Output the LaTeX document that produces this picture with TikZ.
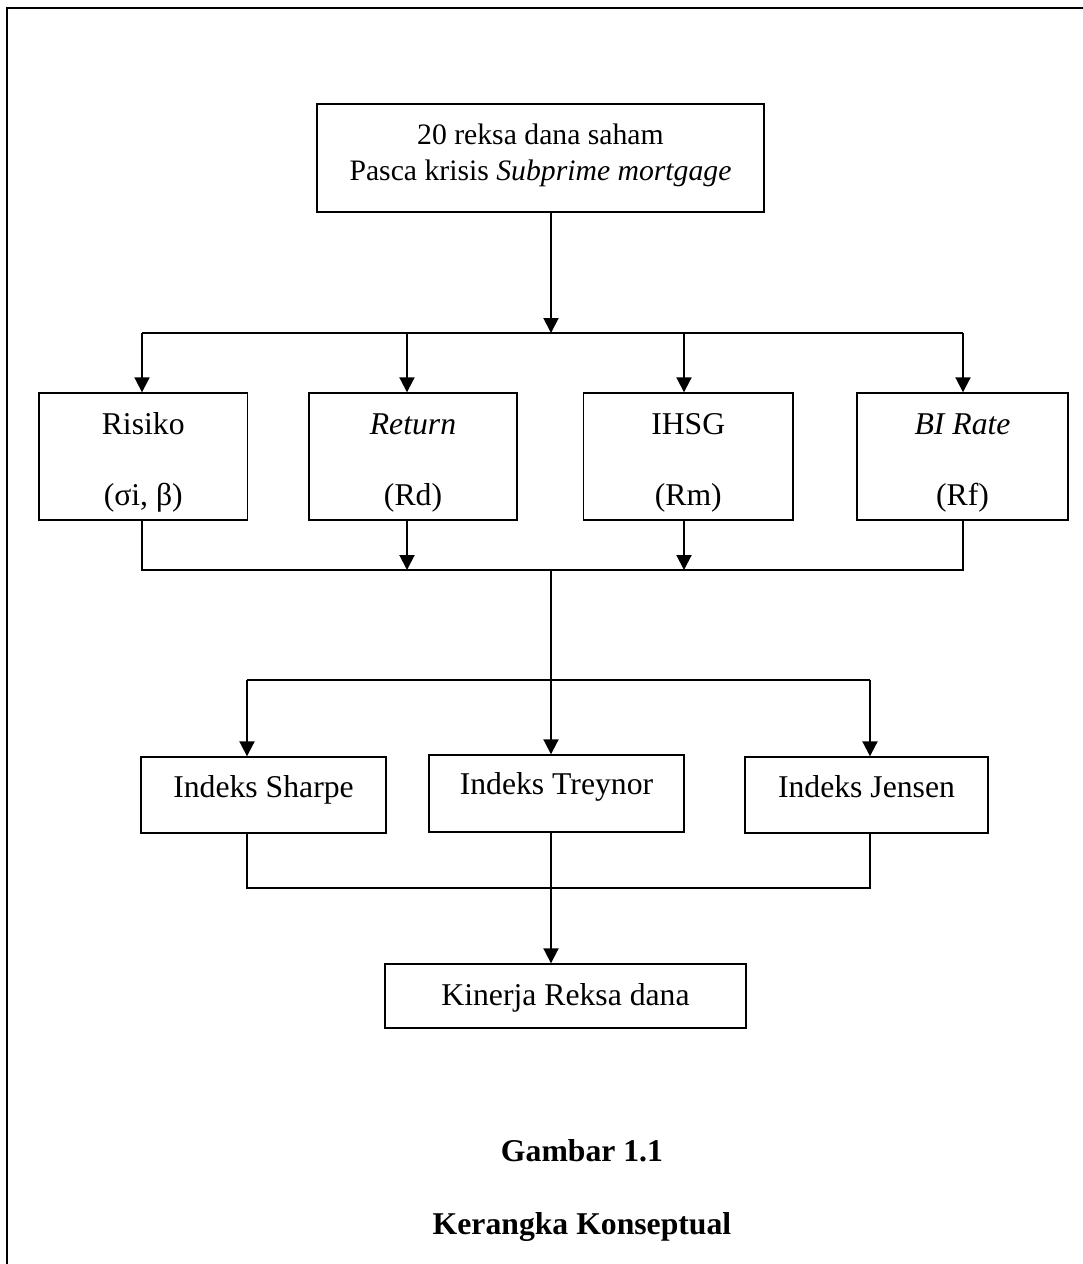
\documentclass[tikz,border=0pt]{standalone}
\usepackage{fontspec}
\setmainfont{Liberation Serif}
\usetikzlibrary{arrows.meta}
\newcommand\tbx[2]{\raisebox{#1pt}[0pt][0pt]{\begin{tabular}[b]{@{}c@{}}#2\end{tabular}}}
\tikzset{
  boxnode/.style={draw, line width=1.4pt, rectangle, inner sep=0pt, font=\fontsize{31.7}{36}\selectfont},
  arr/.style={line width=2pt, -{Triangle[width=15pt,length=15pt]}},
  ln/.style={line width=1.3pt},
  capt/.style={anchor=base, inner sep=0pt, font=\fontsize{31.7}{36}\selectfont\bfseries},
  frame/.style={line width=2pt}
}
\begin{document}
\begin{tikzpicture}[x=1pt,y=-1pt]
\useasboundingbox (0,0) rectangle (1083,1264);
% outer frame
\coordinate (fbl) at (6.7,1275);
\coordinate (ftl) at (6.7,7.7);
\coordinate (ftr) at (1095,7.7);
\draw[frame] (fbl) -- (ftl) -- (ftr);

% boxes
\node[boxnode, minimum width=447pt, minimum height=108pt, font=\fontsize{29.7}{36}\selectfont] (src) at (540.5,158)
  {\tbx{-22}{20 reksa dana saham\\Pasca krisis \textit{Subprime mortgage}}};
\node[boxnode, minimum width=208.5pt, minimum height=127pt] (risk) at (143.25,456.5)
  {\tbx{-48.5}{Risiko\\[34.7pt](σi, β)}};
\node[boxnode, minimum width=208pt, minimum height=127pt] (ret) at (413,456.5)
  {\tbx{-48.5}{\textit{Return}\\[34.7pt](Rd)}};
\node[boxnode, minimum width=209.5pt, minimum height=127pt] (ihsg) at (688.25,456.5)
  {\tbx{-48.5}{IHSG\\[34.7pt](Rm)}};
\node[boxnode, minimum width=211pt, minimum height=127pt] (bi) at (962.5,456.5)
  {\tbx{-48.5}{\textit{BI Rate}\\[34.7pt](Rf)}};
\node[boxnode, minimum width=245pt, minimum height=76pt] (sharpe) at (263.5,795)
  {\tbx{-2}{Indeks Sharpe}};
\node[boxnode, minimum width=255pt, minimum height=77pt] (trey) at (556.5,793.5)
  {\tbx{-0.5}{Indeks Treynor}};
\node[boxnode, minimum width=243pt, minimum height=76pt] (jensen) at (866.5,795)
  {\tbx{-2}{Indeks Jensen}};
\node[boxnode, minimum width=361pt, minimum height=64pt] (kin) at (565.5,996)
  {\tbx{-9}{Kinerja Reksa dana}};

% captions
\node[capt] (g1) at (582,1161) {Gambar 1.1};
\node[capt] (g2) at (582,1234) {Kerangka Konseptual};

% junction coordinates
\coordinate (j1) at (551,333);
\coordinate (h1l) at (142,333);
\coordinate (a2) at (407,333);
\coordinate (a3) at (684,333);
\coordinate (h1r) at (963,333);
\coordinate (h2l) at (142,570);
\coordinate (h2r) at (963,570);
\coordinate (c2) at (551,570);
\coordinate (h3l) at (247,680);
\coordinate (h3r) at (870,680);
\coordinate (h4l) at (247,888);
\coordinate (h4r) at (870,888);

% top to first bus
\draw[arr] (src.south -| j1) -- (j1);
\draw[ln] (h1l) -- (h1r);
\draw[arr] (h1l) -- (h1l |- risk.north);
\draw[arr] (a2) -- (a2 |- ret.north);
\draw[arr] (a3) -- (a3 |- ihsg.north);
\draw[arr] (h1r) -- (h1r |- bi.north);

% second bus
\draw[ln] (risk.south -| h2l) -- (h2l) -- (h2r) -- (bi.south -| h2r);
\draw[arr] (ret.south -| a2) -- (a2 |- h2l);
\draw[arr] (ihsg.south -| a3) -- (a3 |- h2l);
\draw[arr] (c2) -- (c2 |- trey.north);

% third bus
\draw[ln] (h3l) -- (h3r);
\draw[arr] (h3l) -- (h3l |- sharpe.north);
\draw[arr] (h3r) -- (h3r |- jensen.north);

% fourth bus
\draw[ln] (sharpe.south -| h4l) -- (h4l) -- (h4r) -- (jensen.south -| h4r);
\draw[arr] (trey.south -| c2) -- (c2 |- kin.north);
\end{tikzpicture}
\end{document}
